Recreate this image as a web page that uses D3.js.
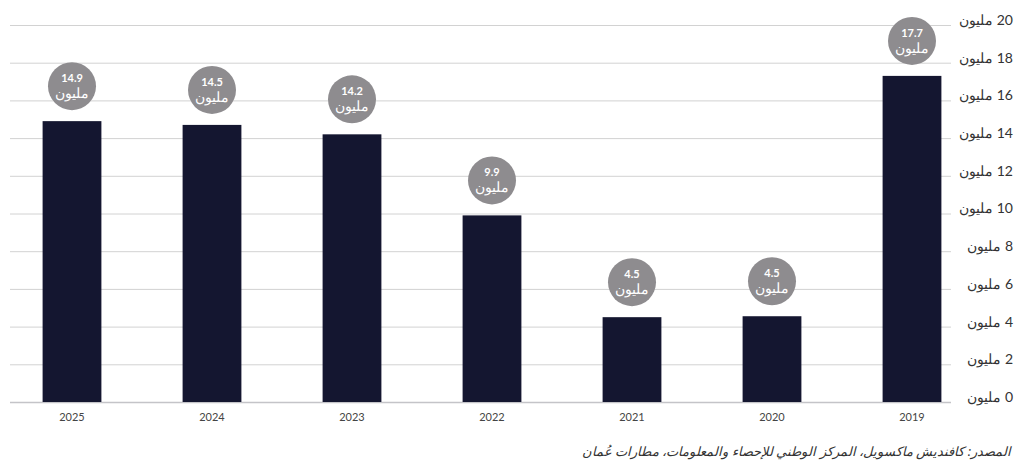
<!DOCTYPE html>
<html lang="ar">
<head>
<meta charset="utf-8">
<title>عدد المسافرين</title>
<script src="https://cdn.jsdelivr.net/npm/d3@7"></script>
<style>
  body { margin: 0; background: #fff; }
  svg { display: block; }
</style>
</head>
<body>
<script>
// years, left to right as drawn
var years = ["2025", "2024", "2023", "2022", "2021", "2020", "2019"];
// bar heights as they sit against the grid
var values = [14.9, 14.7, 14.2, 9.9, 4.5, 4.55, 17.3];
// printed labels in the bubbles
var valueLabels = ["14.9", "14.5", "14.2", "9.9", "4.5", "4.5", "17.7"];
var yTicks = [0, 2, 4, 6, 8, 10, 12, 14, 16, 18, 20];
var unit = "مليون";
var source = "المصدر: كافنديش ماكسويل، المركز الوطني للإحصاء والمعلومات، مطارات عُمان";

var w = 1024, h = 472;
var font = "Lato, 'Noto Sans', sans-serif";

var svg = d3.select("body").append("svg")
  .attr("width", w)
  .attr("height", h);

var x = d3.scaleBand()
  .domain(years)
  .range([2, 982])
  .paddingInner(0.58)
  .paddingOuter(0.29);

var y = d3.scaleLinear()
  .domain([0, 20])
  .range([402, 25]);

// grid lines
svg.selectAll("line.grid")
  .data(yTicks)
  .enter()
  .append("line")
  .attr("class", "grid")
  .attr("x1", 10)
  .attr("x2", 951)
  .attr("y1", function(d) { return y(d) + 0.5; })
  .attr("y2", function(d) { return y(d) + 0.5; })
  .attr("stroke", function(d) { return d === 0 ? "#c4c4c8" : "#d2d2d2"; })
  .attr("stroke-width", function(d) { return d === 0 ? 1.5 : 1; });

// y labels on the right
svg.selectAll("text.ytick")
  .data(yTicks)
  .enter()
  .append("text")
  .attr("class", "ytick")
  .attr("x", 1013)
  .attr("y", function(d) { return y(d) - 5; })
  .attr("dy", "0.35em")
  .attr("direction", "rtl")
  .attr("text-anchor", "start")
  .attr("font-family", font)
  .attr("font-size", "14px")
  .attr("fill", "#333")
  .text(function(d) { return d + " " + unit; });

// bars
svg.selectAll("rect.bar")
  .data(values)
  .enter()
  .append("rect")
  .attr("class", "bar")
  .attr("x", function(d, i) { return x(years[i]); })
  .attr("y", function(d) { return y(d); })
  .attr("width", x.bandwidth())
  .attr("height", function(d) { return y(0) - y(d); })
  .attr("fill", "#141630");

// year labels
svg.selectAll("text.year")
  .data(years)
  .enter()
  .append("text")
  .attr("class", "year")
  .attr("x", function(d) { return x(d) + x.bandwidth() / 2; })
  .attr("y", 421)
  .attr("text-anchor", "middle")
  .attr("font-family", font)
  .attr("font-size", "11px")
  .attr("fill", "#444")
  .text(function(d) { return d; });

// value bubbles
var bubbles = svg.selectAll("g.bubble")
  .data(values)
  .enter()
  .append("g")
  .attr("class", "bubble")
  .attr("transform", function(d, i) {
    return "translate(" + (x(years[i]) + x.bandwidth() / 2) + "," + (y(d) - 35) + ")";
  });

bubbles.append("circle")
  .attr("r", 24)
  .attr("fill", "#8e8c8f");

bubbles.append("text")
  .attr("y", -8)
  .attr("dy", "0.35em")
  .attr("text-anchor", "middle")
  .attr("font-family", font)
  .attr("font-size", "11px")
  .attr("font-weight", "bold")
  .attr("fill", "#fff")
  .text(function(d, i) { return valueLabels[i]; });

bubbles.append("text")
  .attr("y", 7)
  .attr("dy", "0.35em")
  .attr("text-anchor", "middle")
  .attr("font-family", "'Noto Sans', sans-serif")
  .attr("font-size", "14px")
  .attr("fill", "#fff")
  .text(unit);

// source note
svg.append("text")
  .attr("x", 1011)
  .attr("y", 456)
  .attr("direction", "rtl")
  .attr("text-anchor", "start")
  .attr("font-family", "'Noto Sans', sans-serif")
  .attr("font-size", "13px")
  .attr("font-style", "italic")
  .attr("fill", "#333")
  .text(source);
</script>
</body>
</html>
